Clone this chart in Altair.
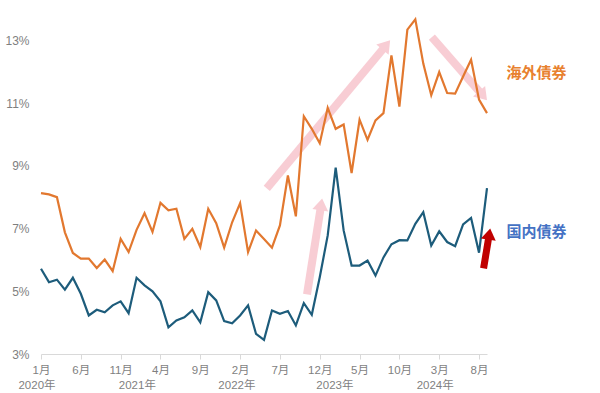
import json
import math
import altair as alt
import pandas as pd

# ---- data ----
month_index = list(range(57))  # Jan 2020 .. Sep 2024
overseas = [8.13, 8.09, 8.0, 6.88, 6.22, 6.04, 6.04, 5.74, 6.01, 5.64,
            6.67, 6.25, 6.96, 7.49, 6.89, 7.82, 7.58, 7.63, 6.67, 6.99,
            6.41, 7.63, 7.17, 6.39, 7.2, 7.81, 6.25, 6.94, 6.67, 6.39,
            7.1, 8.69, 7.39, 10.58, 10.18, 9.72, 10.85, 10.18, 10.32, 8.77,
            10.47, 9.83, 10.45, 10.68, 12.52, 10.89, 13.34, 13.67, 12.26, 11.25,
            11.99, 11.32, 11.30, 11.85, 12.38, 11.11, 10.68]
domestic = [5.72, 5.29, 5.37, 5.05, 5.43, 4.92, 4.23, 4.41, 4.33, 4.55,
            4.68, 4.30, 5.43, 5.19, 5.0, 4.68, 3.85, 4.07, 4.17, 4.39,
            4.01, 4.97, 4.71, 4.05, 3.98, 4.23, 4.55, 3.64, 3.45, 4.39,
            4.28, 4.37, 3.91, 4.62, 4.25, 5.45, 6.78, 8.94, 6.94, 5.82,
            5.82, 5.98, 5.50, 6.08, 6.50, 6.63, 6.62, 7.15, 7.52, 6.46,
            6.91, 6.57, 6.44, 7.13, 7.34, 6.23, 8.29]
series_names = ["海外債券", "国内債券"]
series_colors = ["#E2782F", "#1D5C7B"]
label_colors = ["#E8812F", "#4472C4"]

tick_values = list(range(0, 56, 5))
month_labels = ["1月", "6月", "11月", "4月", "9月", "2月", "7月", "12月", "5月", "10月", "3月", "8月"]
y_ticks = [3, 5, 7, 9, 11, 13]

year_labels = ["2020年", "2021年", "2022年", "2023年", "2024年"]
year_pos = [-0.5, 12.1, 24.6, 36.9, 49.5]
year_level = [1.98] * 5

series_label_x = [62.2, 62.2]
series_label_y = [11.97, 6.9]

# arrows (start/end in data units)
pink_x1 = [28.35, 49.08, 33.4]
pink_y1 = [8.28, 13.1, 4.90]
pink_x2 = [43.84, 56.0, 35.3]
pink_y2 = [13.0, 11.09, 7.96]
red_x1 = [55.57]
red_y1 = [5.73]
red_x2 = [56.4]
red_y2 = [7.0]

# ---- layout ----
W, H = 446, 345
X_DOM = [0, 56]
Y_DOM = [3, 14]
PX_X = W / (X_DOM[1] - X_DOM[0])
PX_Y = H / (Y_DOM[1] - Y_DOM[0])
AX_FONT = "Liberation Sans, Noto Sans CJK JP"

xscale = alt.Scale(domain=X_DOM, nice=False, zero=False)
yscale = alt.Scale(domain=Y_DOM, nice=False, zero=False)

label_expr = json.dumps(month_labels, ensure_ascii=False) + "[round(datum.value / 5)]"
X_AX = alt.Axis(values=tick_values, labelExpr=label_expr, title=None, grid=False,
                domainColor="#D9D9D9", tickColor="#D9D9D9", tickSize=5,
                labelColor="#7F7F7F", labelFontSize=11.5, labelPadding=5,
                labelFont=AX_FONT, labelFlush=False)
Y_AX = alt.Axis(values=y_ticks, labelExpr="datum.value + '%'", title=None, grid=False,
                ticks=False, domain=False, labelColor="#7F7F7F", labelFontSize=12,
                labelPadding=12, labelFont=AX_FONT)


def X(field):
    return alt.X(field, scale=xscale, axis=X_AX, title=None)


def Y(field):
    return alt.Y(field, scale=yscale, axis=Y_AX, title=None)


lines_df = pd.DataFrame({
    "idx": month_index * 2,
    "value": overseas + domestic,
    "series": [series_names[0]] * 57 + [series_names[1]] * 57,
})


def arrow_frames(x1s, y1s, x2s, y2s, head_len):
    shafts, heads = [], []
    for x1, y1, x2, y2 in zip(x1s, y1s, x2s, y2s):
        dx = (x2 - x1) * PX_X
        dy = (y2 - y1) * PX_Y
        L = math.hypot(dx, dy)
        ux, uy = dx / L, dy / L
        shafts.append({"x": x1, "y": y1,
                       "x2": x2 - head_len * 0.85 * ux / PX_X,
                       "y2": y2 - head_len * 0.85 * uy / PX_Y})
        heads.append({"x": x2, "y": y2, "angle": math.degrees(math.atan2(dx, dy))})
    return pd.DataFrame(shafts), pd.DataFrame(heads)


HEAD_SHAPE = "M0,0L1,1.5L-1,1.5Z"


def arrow_layers(x1s, y1s, x2s, y2s, color, width, head_r):
    sh, hd = arrow_frames(x1s, y1s, x2s, y2s, head_r * 1.5)
    shaft = alt.Chart(sh).mark_rule(color=color, strokeWidth=width, strokeCap="butt").encode(
        x=X("x:Q"), y=Y("y:Q"), x2="x2:Q", y2="y2:Q")
    head = alt.Chart(hd).mark_point(shape=HEAD_SHAPE, filled=True, color=color, opacity=1,
                                    size=(2 * head_r) ** 2, strokeWidth=0).encode(
        x=X("x:Q"), y=Y("y:Q"), angle=alt.Angle("angle:Q", scale=None))
    return shaft + head


pink = arrow_layers(pink_x1, pink_y1, pink_x2, pink_y2, "#F8CDD4", 8, 8)
red = arrow_layers(red_x1, red_y1, red_x2, red_y2, "#C00000", 7, 7.5)

lines = alt.Chart(lines_df).mark_line(strokeWidth=2.2).encode(
    x=X("idx:Q"),
    y=Y("value:Q"),
    color=alt.Color("series:N", scale=alt.Scale(domain=series_names, range=series_colors), legend=None),
    detail="series:N",
)

years_df = pd.DataFrame({"x": year_pos, "y": year_level, "t": year_labels})
years = alt.Chart(years_df).mark_text(fontSize=11.5, color="#7F7F7F", font=AX_FONT,
                                      align="center", baseline="middle").encode(
    x=X("x:Q"), y=Y("y:Q"), text="t:N")

lab_df = pd.DataFrame({"x": series_label_x, "y": series_label_y, "t": series_names})
labels = alt.Chart(lab_df).mark_text(fontSize=15, fontWeight="bold", font="Noto Sans CJK JP",
                                     align="center", baseline="middle").encode(
    x=X("x:Q"), y=Y("y:Q"), text="t:N",
    color=alt.Color("t:N", scale=alt.Scale(domain=series_names, range=label_colors), legend=None))

chart = alt.layer(pink, lines, red, years, labels).resolve_scale(color="independent").properties(
    width=W, height=H,
    autosize=alt.AutoSizeParams(type="none"),
    padding={"left": 41, "top": 9, "right": 113, "bottom": 39},
    background="white",
).configure_view(stroke=None)

chart.save("out.html", embed_options={"renderer": "svg", "actions": False})
